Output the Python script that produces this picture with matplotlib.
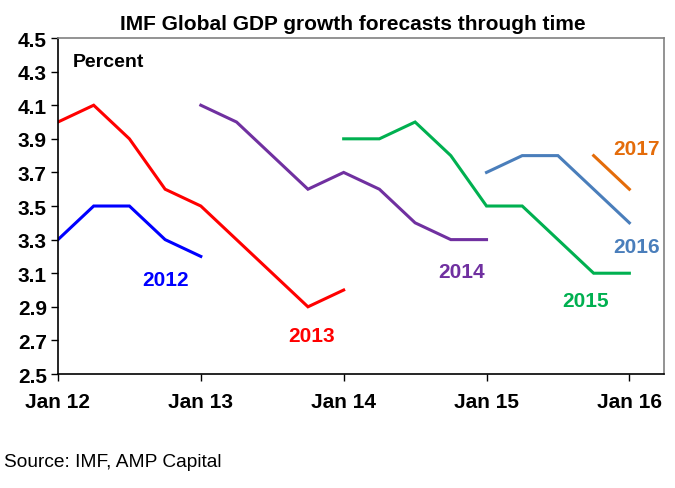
import numpy as np
import matplotlib
matplotlib.use("Agg")
import matplotlib.pyplot as plt

plt.rcParams['font.family'] = ['Liberation Sans', 'DejaVu Sans']

# quarterly forecast dates, Jan 12 .. Jan 16
quarters = ['Jan 12', 'Apr 12', 'Jul 12', 'Oct 12', 'Jan 13', 'Apr 13', 'Jul 13', 'Oct 13',
            'Jan 14', 'Apr 14', 'Jul 14', 'Oct 14', 'Jan 15', 'Apr 15', 'Jul 15', 'Oct 15', 'Jan 16']
tick_labels = ['Jan 12', 'Jan 13', 'Jan 14', 'Jan 15', 'Jan 16']

# forecasts for each year, with the index of the first quarter they start at
f2012 = [3.3, 3.5, 3.5, 3.3, 3.2]
f2013 = [4.0, 4.1, 3.9, 3.6, 3.5, 3.3, 3.1, 2.9, 3.0]
f2014 = [4.1, 4.0, 3.8, 3.6, 3.7, 3.6, 3.4, 3.3, 3.3]
f2015 = [3.9, 3.9, 4.0, 3.8, 3.5, 3.5, 3.3, 3.1, 3.1]
f2016 = [3.7, 3.8, 3.8, 3.6, 3.4]
f2017 = [3.8, 3.6]
starts = {'2012': 0, '2013': 0, '2014': 4, '2015': 8, '2016': 12, '2017': 15}

series = [('2012', f2012, '#0000FF', (3.0, 3.06)),
          ('2013', f2013, '#FF0000', (7.1, 2.73)),
          ('2014', f2014, '#7030A0', (11.3, 3.11)),
          ('2015', f2015, '#00B050', (14.76, 2.94)),
          ('2016', f2016, '#4A7EBB', (16.19, 3.26)),
          ('2017', f2017, '#E46C0A', (16.19, 3.84))]

fig = plt.figure(figsize=(6.75, 4.89), dpi=100)
ax = fig.add_axes([0.0859, 0.2331, 0.8978, 0.6871])

for name, vals, col, (lx, ly) in series:
    x = np.arange(len(vals)) + starts[name]
    ax.plot(x, vals, color=col, lw=2.2, solid_joinstyle='miter')
    ax.text(lx, ly, name, color=col, fontsize=15, fontweight='bold',
            ha='center', va='center')

ax.set_xlim(0, 16.97)
ax.set_ylim(2.5, 4.5)
ax.set_yticks(np.arange(2.5, 4.51, 0.2))
ax.set_yticklabels(['%.1f' % v for v in np.arange(2.5, 4.51, 0.2)])
ax.set_xticks(np.arange(0, 17, 4))
ax.set_xticklabels(tick_labels)
ax.tick_params(axis='both', direction='out', length=5, width=1, labelsize=15, pad=3)
for lab in ax.get_xticklabels() + ax.get_yticklabels():
    lab.set_fontweight('bold')
ax.tick_params(axis='x', pad=8)

for s in ['left', 'bottom']:
    ax.spines[s].set_color('black')
    ax.spines[s].set_linewidth(1.2)
for s in ['top', 'right']:
    ax.spines[s].set_color('#808080')
    ax.spines[s].set_linewidth(1.2)

ax.text(0.024, 0.93, 'Percent', transform=ax.transAxes, fontsize=14, fontweight='bold',
        ha='left', va='center')
fig.text(0.522, 0.95, 'IMF Global GDP growth forecasts through time', fontsize=15,
         fontweight='bold', ha='center', va='center')
fig.text(0.006, 0.055, 'Source: IMF, AMP Capital', fontsize=13.8, ha='left', va='center')

fig.savefig('out.png', dpi=100)
